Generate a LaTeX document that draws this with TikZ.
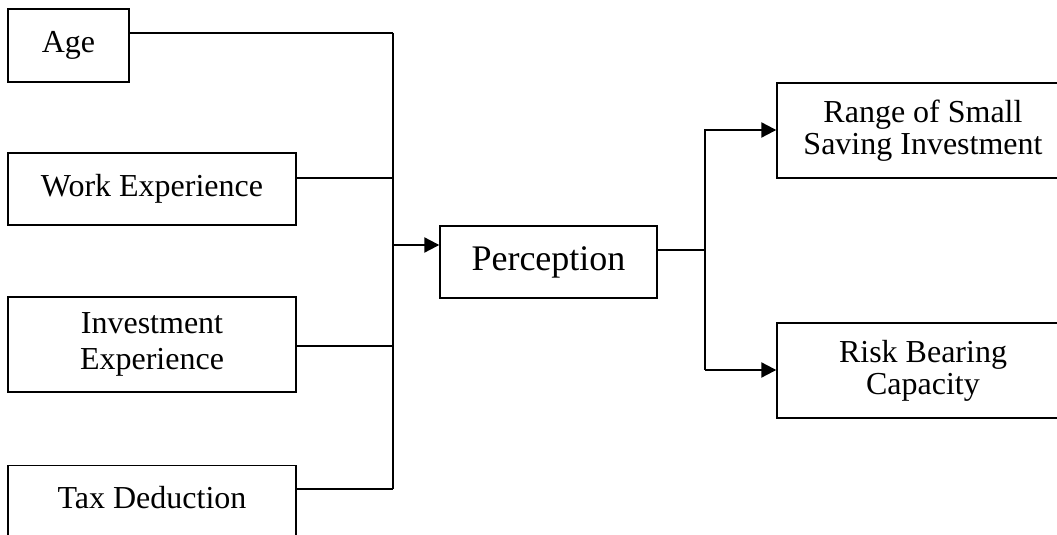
\documentclass[tikz,border=0pt]{standalone}
\usepackage{fontspec}
\setmainfont{Liberation Serif}
\usetikzlibrary{arrows.meta,positioning,calc}
\tikzset{
  caja/.style   = {draw, line width=0.7pt, align=center, inner sep=2pt,
                   font=\fontsize{16}{18}\selectfont},
  cajad/.style  = {caja, font=\fontsize{16}{16}\selectfont},
  linea/.style  = {line width=0.6pt},
  bus/.style    = {line width=1pt},
  flecha/.style = {-{Triangle[length=7.5pt,width=7.5pt]}, line width=1.1pt},
}

\begin{document}
\begin{tikzpicture}[x=0.5pt, y=-0.5pt]
  \useasboundingbox (0,0) rectangle (1057,535);
  \clip (0,0) rectangle (1057,535);
  % factores
  \node[caja, minimum width=60.5pt, minimum height=36.5pt] (age) at (68.5,45.5) {Age};
  \node[caja, minimum width=144pt, minimum height=36pt] (work) at (152,189) {Work Experience};
  \node[caja, minimum width=144pt, minimum height=47.5pt] (inv) at (152,344.5) {Investment\\Experience};
  \node[caja, anchor=north, minimum width=144pt, inner sep=4pt,
        text height=17.5pt, text depth=40pt] (tax) at (152,465) {Tax Deduction};
  % percepcion y resultados
  \node[caja, font=\fontsize{18}{20}\selectfont, minimum width=108.5pt,
        minimum height=36pt] (perc) at (548.5,262) {Perception};
  \node[cajad, minimum width=146pt, minimum height=47.5pt] (range) at (923,130.5) {Range of Small\\Saving Investment};
  \node[cajad, minimum width=146pt, minimum height=47.5pt] (risk) at (923,370.5) {Risk Bearing\\Capacity};
  % puntos de union
  \coordinate (busA) at (393,33);
  \coordinate (busW) at (393,178);
  \coordinate (busP) at (393,245);
  \coordinate (busI) at (393,346);
  \coordinate (busT) at (393,489);
  \coordinate (splM) at (705,250);
  \coordinate (splU) at (705,130);
  \coordinate (splD) at (705,370);
  % conectores
  \draw[linea] (age.east |- busA) -- (busA);
  \draw[linea] (work.east |- busW) -- (busW);
  \draw[linea] (inv.east |- busI) -- (busI);
  \draw[linea] (tax.east |- busT) -- (busT);
  \draw[bus] (busA) -- (busT);
  \draw[flecha] (busP) -- (perc.west |- busP);
  \draw[linea] (perc.east |- splM) -- (splM);
  \draw[flecha] (splD) -- (splU) -- (range.west |- splU);
  \draw[flecha] (splD) -- (risk.west |- splD);
\end{tikzpicture}
\end{document}
